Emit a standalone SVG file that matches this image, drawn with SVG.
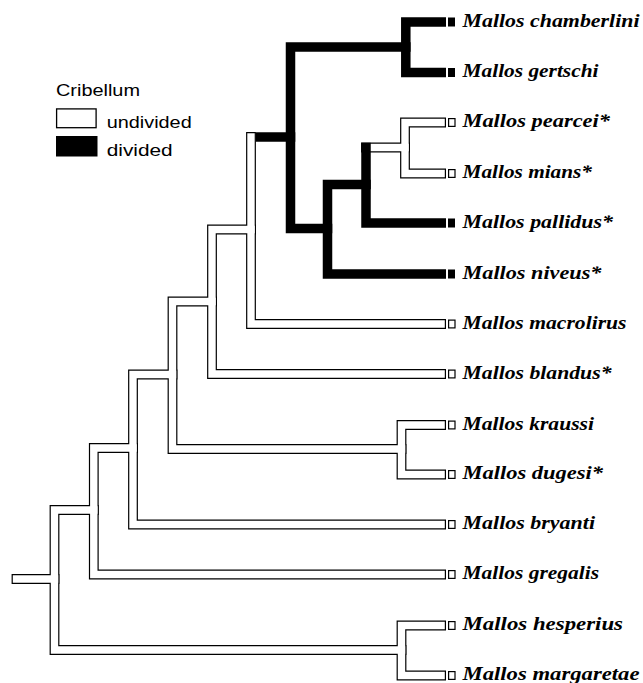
<svg xmlns="http://www.w3.org/2000/svg" width="643" height="683" viewBox="0 0 643 683">
<style>
.br{fill:none;stroke-linecap:square;stroke-linejoin:miter}
.o{stroke:#000;stroke-width:9.8}
.i{stroke:#fff;stroke-width:7.4}
.d{stroke:#000;stroke-width:9.5}
.tip{fill:#fff;stroke:#000;stroke-width:1.2}
.tipd{fill:#000}
.sp{font-family:"Liberation Serif","Times New Roman",serif;font-weight:bold;font-style:italic;font-size:18px;fill:#000}
.lg{font-family:"Liberation Sans",Arial,sans-serif;font-size:17px;fill:#000}
</style>
<defs>
<path id="hroot" d="M16.5,579 H54.5"/>
<path id="hR" d="M93.8,510 H54.5 V650 H401.5"/>
<path id="hHM" d="M441.1,625.5 H401.5 V675.5 H441.1"/>
<path id="hA" d="M133,448 H93.8 V574.5 H441.1"/>
<path id="hB" d="M172.5,374.5 H133 V524.5 H441.1"/>
<path id="hC" d="M212,301.5 H172.5 V449 H401.5"/>
<path id="hKD" d="M441.1,425 H401.5 V474.5 H441.1"/>
<path id="hD" d="M251,229.5 H212 V374 H441.1"/>
<path id="hE" d="M251,137 V324 H441.1"/>
<path id="hJs" d="M366,147.5 H405"/>
<path id="hJ" d="M441.1,122.5 H405 V173.5 H441.1"/>
</defs>
<rect width="643" height="683" fill="#fff"/>
<g id="legend">
<text class="lg" x="56" y="95.5" textLength="84" lengthAdjust="spacingAndGlyphs">Cribellum</text>
<rect x="56.6" y="108.9" width="39.5" height="18.8" fill="#fff" stroke="#000" stroke-width="1.3"/>
<text class="lg" x="106.7" y="128" textLength="85" lengthAdjust="spacingAndGlyphs">undivided</text>
<rect x="56" y="136" width="41.5" height="20.5" fill="#000"/>
<text class="lg" x="106.7" y="155.5" textLength="66" lengthAdjust="spacingAndGlyphs">divided</text>
</g>
<g id="connectors">
<g class="br o">
<use href="#hroot"/><use href="#hR"/><use href="#hHM"/><use href="#hA"/><use href="#hB"/><use href="#hC"/><use href="#hKD"/><use href="#hD"/><use href="#hE"/><use href="#hJs"/><use href="#hJ"/>
</g>
<g class="br i">
<use href="#hroot"/><use href="#hR"/><use href="#hHM"/><use href="#hA"/><use href="#hB"/><use href="#hC"/><use href="#hKD"/><use href="#hD"/><use href="#hE"/><use href="#hJs"/><use href="#hJ"/>
</g>
<g class="br d">
<path d="M260.4,137 H290.5"/>
<path d="M405.8,47 H290.5 V228.5 H327.5"/>
<path d="M441.25,22 H405.8 V72.5 H441.25"/>
<path d="M366,184.5 H327.5 V274 H441.25"/>
<path d="M366,147.5 V223 H441.25"/>
</g>
</g>
<g id="chamberlini"><rect class="tipd" x="448" y="17.5" width="7" height="9"/><text class="sp" x="462.5" y="26.5" textLength="177" lengthAdjust="spacingAndGlyphs">Mallos chamberlini</text></g>
<g id="gertschi"><rect class="tipd" x="448" y="68" width="7" height="9"/><text class="sp" x="462.5" y="77" textLength="136" lengthAdjust="spacingAndGlyphs">Mallos gertschi</text></g>
<g id="pearcei"><rect class="tip" x="448.6" y="118.6" width="6.4" height="7.8"/><text class="sp" x="462.5" y="127" textLength="147.5" lengthAdjust="spacingAndGlyphs">Mallos pearcei*</text></g>
<g id="mians"><rect class="tip" x="448.6" y="169.6" width="6.4" height="7.8"/><text class="sp" x="462.5" y="178" textLength="129.5" lengthAdjust="spacingAndGlyphs">Mallos mians*</text></g>
<g id="pallidus"><rect class="tipd" x="448" y="218.5" width="7" height="9"/><text class="sp" x="462.5" y="227.5" textLength="150.5" lengthAdjust="spacingAndGlyphs">Mallos pallidus*</text></g>
<g id="niveus"><rect class="tipd" x="448" y="269.5" width="7" height="9"/><text class="sp" x="462.5" y="278.5" textLength="139" lengthAdjust="spacingAndGlyphs">Mallos niveus*</text></g>
<g id="macrolirus"><rect class="tip" x="448.6" y="320.1" width="6.4" height="7.8"/><text class="sp" x="462.5" y="328.5" textLength="164" lengthAdjust="spacingAndGlyphs">Mallos macrolirus</text></g>
<g id="blandus"><rect class="tip" x="448.6" y="370.1" width="6.4" height="7.8"/><text class="sp" x="462.5" y="378.5" textLength="149" lengthAdjust="spacingAndGlyphs">Mallos blandus*</text></g>
<g id="kraussi"><rect class="tip" x="448.6" y="421.1" width="6.4" height="7.8"/><text class="sp" x="462.5" y="429.5" textLength="131.5" lengthAdjust="spacingAndGlyphs">Mallos kraussi</text></g>
<g id="dugesi"><rect class="tip" x="448.6" y="470.6" width="6.4" height="7.8"/><text class="sp" x="462.5" y="479" textLength="140.5" lengthAdjust="spacingAndGlyphs">Mallos dugesi*</text></g>
<g id="bryanti"><rect class="tip" x="448.6" y="520.6" width="6.4" height="7.8"/><text class="sp" x="462.5" y="529" textLength="132.5" lengthAdjust="spacingAndGlyphs">Mallos bryanti</text></g>
<g id="gregalis"><rect class="tip" x="448.6" y="570.6" width="6.4" height="7.8"/><text class="sp" x="462.5" y="579" textLength="136.5" lengthAdjust="spacingAndGlyphs">Mallos gregalis</text></g>
<g id="hesperius"><rect class="tip" x="448.6" y="621.6" width="6.4" height="7.8"/><text class="sp" x="462.5" y="630" textLength="160.5" lengthAdjust="spacingAndGlyphs">Mallos hesperius</text></g>
<g id="margaretae"><rect class="tip" x="448.6" y="671.6" width="6.4" height="7.8"/><text class="sp" x="462.5" y="680" textLength="177" lengthAdjust="spacingAndGlyphs">Mallos margaretae</text></g>
</svg>
